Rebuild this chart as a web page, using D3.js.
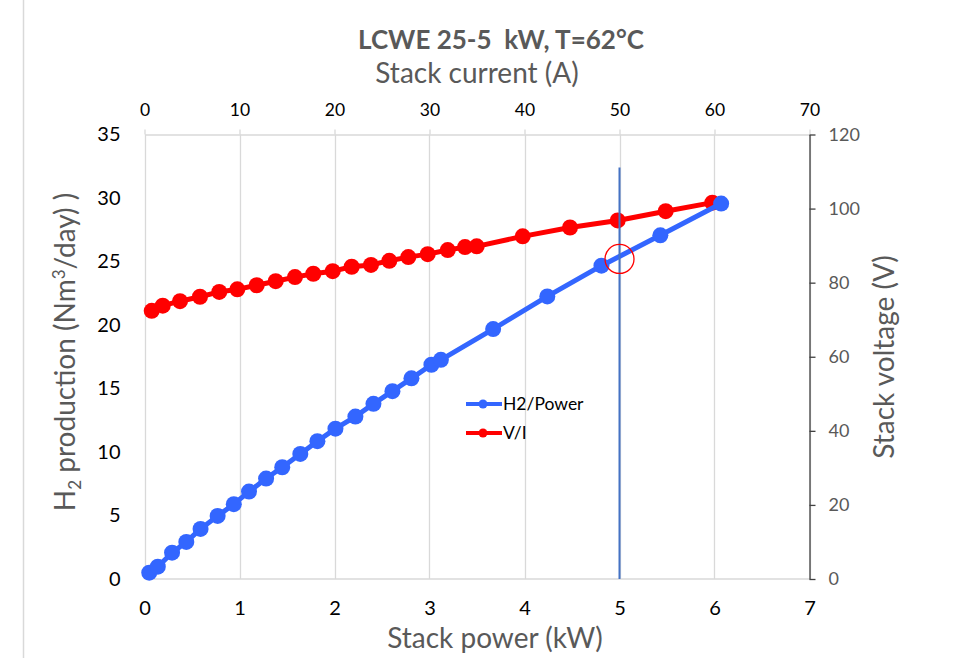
<!DOCTYPE html>
<html>
<head>
<meta charset="utf-8">
<script src="https://cdn.jsdelivr.net/npm/d3@7"></script>
<style>
  html, body { margin: 0; padding: 0; background: #fff; }
  svg { display: block; font-family: Lato, "Liberation Sans", sans-serif; }
</style>
</head>
<body>
<svg id="chart" width="971" height="658"></svg>
<script>
// H2/Power series: stack power (kW) vs hydrogen production (Nm3/day)
const powerKW = [0.05, 0.14, 0.29, 0.44, 0.59, 0.77, 0.94, 1.10, 1.28, 1.45, 1.64, 1.82,
                 2.01, 2.22, 2.41, 2.61, 2.81, 3.02, 3.12, 3.67, 4.24, 4.81, 5.43, 6.07];
const h2Production = [0.50, 0.97, 2.07, 2.92, 3.94, 4.97, 5.89, 6.88, 7.91, 8.80, 9.85, 10.85,
                      11.84, 12.79, 13.79, 14.79, 15.80, 16.87, 17.26, 19.68, 22.25, 24.67, 27.06, 29.56];

// V/I series: stack current (A) vs stack voltage (V)
const currentA = [0.76, 1.92, 3.74, 5.84, 7.87, 9.77, 11.81, 13.81, 15.84, 17.77, 19.81, 21.81,
                  23.84, 25.77, 27.77, 29.81, 31.92, 33.74, 34.97, 39.81, 44.79, 49.81, 54.86, 59.77];
const voltageV = [72.4, 73.8, 75.0, 76.2, 77.5, 78.2, 79.3, 80.4, 81.5, 82.4, 83.1, 84.3,
                  84.8, 85.9, 86.9, 87.7, 88.8, 89.6, 89.8, 92.5, 94.9, 96.8, 99.3, 101.6];

// Axis ticks
const powerTicks = [0, 1, 2, 3, 4, 5, 6, 7];
const currentTicks = [0, 10, 20, 30, 40, 50, 60, 70];
const h2Ticks = [0, 5, 10, 15, 20, 25, 30, 35];
const voltageTicks = [0, 20, 40, 60, 80, 100, 120];

// Operating point highlighted at 5 kW
const refPowerKW = 5;
const refLineTopH2 = 32.4;
const refPointH2 = 25.2;

const seriesNames = ["H2/Power", "V/I"];
const seriesColors = ["#3366FF", "#FF0000"];

const svg = d3.select("#chart");
const L = 144.5, R = 809.5, T = 134.5, B = 579;

const x = d3.scaleLinear().domain([0, 7]).range([L, R]);
const xTop = d3.scaleLinear().domain([0, 70]).range([L, R]);
const y = d3.scaleLinear().domain([0, 35]).range([B, T]);
const yRight = d3.scaleLinear().domain([0, 120]).range([B, T]);

const gray = "#595959";
const grid = "#d9d9d9";
const fmt = d3.format("d");

// outer frame edge on the left
svg.append("line").attr("x1", 23.5).attr("x2", 23.5).attr("y1", 0).attr("y2", 658)
  .attr("stroke", grid).attr("stroke-width", 1.5);

// vertical gridlines
svg.append("g").selectAll("line").data(powerTicks).join("line")
  .attr("x1", d => Math.round(x(d)) + 0.5).attr("x2", d => Math.round(x(d)) + 0.5)
  .attr("y1", T).attr("y2", B)
  .attr("stroke", grid).attr("stroke-width", 1.3);

// bottom axis line
svg.append("line").attr("x1", L).attr("x2", R).attr("y1", B).attr("y2", B)
  .attr("stroke", grid).attr("stroke-width", 1.3);

// top axis (stack current)
const topAxis = svg.append("g").attr("transform", `translate(0,${T})`)
  .call(d3.axisTop(xTop).tickValues(currentTicks).tickFormat(fmt).tickSize(5).tickSizeOuter(0).tickPadding(14));
topAxis.select(".domain").attr("stroke", grid).attr("stroke-width", 1.3);
topAxis.selectAll(".tick line").attr("stroke", grid).attr("stroke-width", 1.3);
topAxis.selectAll(".tick text").attr("fill", "#000").attr("font-size", 17.5)
  .attr("font-family", "Lato, sans-serif");

// bottom axis labels (stack power)
const bottomAxis = svg.append("g").attr("transform", `translate(0,${B})`)
  .call(d3.axisBottom(x).tickValues(powerTicks).tickFormat(fmt).tickSize(0).tickPadding(22));
bottomAxis.select(".domain").remove();
bottomAxis.selectAll(".tick text").attr("fill", "#000").attr("font-size", 20)
  .attr("font-family", "Lato, sans-serif");

// left axis labels (H2 production)
const leftAxis = svg.append("g").attr("transform", `translate(${L},0)`)
  .call(d3.axisLeft(y).tickValues(h2Ticks).tickFormat(fmt).tickSize(0).tickPadding(24));
leftAxis.select(".domain").remove();
leftAxis.selectAll(".tick text").attr("fill", "#000").attr("font-size", 20)
  .attr("font-family", "Lato, sans-serif");

// right axis (stack voltage)
const rightAxis = svg.append("g").attr("transform", `translate(${R},0)`)
  .call(d3.axisRight(yRight).tickValues(voltageTicks).tickFormat(fmt).tickSize(6).tickSizeOuter(0).tickPadding(13));
rightAxis.select(".domain").attr("stroke", "#404040").attr("stroke-width", 1.3);
rightAxis.selectAll(".tick line").attr("stroke", "#404040").attr("stroke-width", 1.3);
rightAxis.selectAll(".tick text").attr("fill", gray).attr("font-size", 18)
  .attr("font-family", "Lato, sans-serif");

// titles
svg.append("text").attr("x", 501).attr("y", 49).attr("text-anchor", "middle")
  .attr("font-size", 26).attr("font-weight", "bold").attr("fill", gray)
  .style("white-space", "pre").text("LCWE 25-5  kW, T=62°C");
svg.append("text").attr("x", 477).attr("y", 83).attr("text-anchor", "middle")
  .attr("font-size", 28).attr("fill", gray).text("Stack current (A)");
svg.append("text").attr("x", 495).attr("y", 648).attr("text-anchor", "middle")
  .attr("font-size", 28).attr("fill", gray).text("Stack power (kW)");
svg.append("text").attr("transform", "translate(894,357) rotate(-90)").attr("text-anchor", "middle")
  .attr("font-size", 28).attr("fill", gray).text("Stack voltage (V)");

const yTitle = svg.append("text").attr("transform", "translate(75,352) rotate(-90)")
  .attr("text-anchor", "middle").attr("font-size", 28).attr("fill", gray);
yTitle.append("tspan").text("H");
yTitle.append("tspan").attr("font-size", 17).attr("dy", 6).text("2");
yTitle.append("tspan").attr("dy", -6).text(" production (Nm");
yTitle.append("tspan").attr("font-size", 17).attr("dy", -10).text("3");
yTitle.append("tspan").attr("dy", 10).text("/day) )");

// series
const h2Data = powerKW.map((p, i) => [p, h2Production[i]]);
const viData = currentA.map((c, i) => [c, voltageV[i]]);

const lineH2 = d3.line().x(d => x(d[0])).y(d => y(d[1]));
const lineVI = d3.line().x(d => xTop(d[0])).y(d => yRight(d[1]));

svg.append("path").datum(viData).attr("d", lineVI).attr("fill", "none")
  .attr("stroke", seriesColors[1]).attr("stroke-width", 5).attr("stroke-linejoin", "round");
svg.append("g").selectAll("circle").data(viData).join("circle")
  .attr("cx", d => xTop(d[0])).attr("cy", d => yRight(d[1])).attr("r", 8)
  .attr("fill", seriesColors[1]);

svg.append("path").datum(h2Data).attr("d", lineH2).attr("fill", "none")
  .attr("stroke", seriesColors[0]).attr("stroke-width", 5).attr("stroke-linejoin", "round");
svg.append("g").selectAll("circle").data(h2Data).join("circle")
  .attr("cx", d => x(d[0])).attr("cy", d => y(d[1])).attr("r", 8)
  .attr("fill", seriesColors[0]);

// highlighted operating point
svg.append("line").attr("x1", x(refPowerKW)).attr("x2", x(refPowerKW))
  .attr("y1", y(refLineTopH2)).attr("y2", y(0))
  .attr("stroke", "#4472C4").attr("stroke-width", 2);
svg.append("circle").attr("cx", x(refPowerKW)).attr("cy", y(refPointH2)).attr("r", 14.5)
  .attr("fill", "none").attr("stroke", "#FF0000").attr("stroke-width", 1.3);

// legend
const legend = svg.append("g");
seriesNames.forEach((name, i) => {
  const ly = 404 + i * 29;
  legend.append("line").attr("x1", 466).attr("x2", 502).attr("y1", ly).attr("y2", ly)
    .attr("stroke", seriesColors[i]).attr("stroke-width", 4);
  legend.append("circle").attr("cx", 483).attr("cy", ly).attr("r", 4.5).attr("fill", seriesColors[i]);
  legend.append("text").attr("x", 503).attr("y", ly + 6).attr("font-size", 17.5)
    .attr("fill", "#000").text(name);
});
</script>
</body>
</html>
